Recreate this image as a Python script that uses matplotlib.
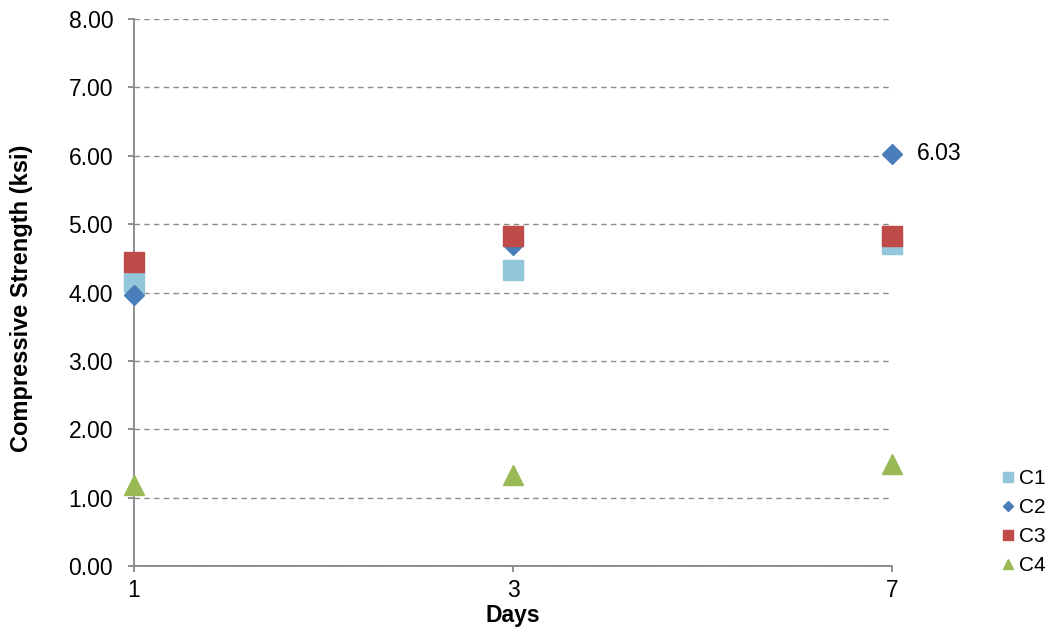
import matplotlib
matplotlib.use("Agg")
import matplotlib.pyplot as plt

plt.rcParams['font.family'] = ['Liberation Sans', 'DejaVu Sans']

days = ["1", "3", "7"]
c1 = [4.15, 4.33, 4.71]
c2 = [3.97, 4.70, 6.03]
c3 = [4.45, 4.83, 4.83]
c4 = [1.19, 1.33, 1.49]
yticks = [0, 1, 2, 3, 4, 5, 6, 7, 8]

x = list(range(len(days)))

fig = plt.figure(figsize=(10.5, 6.33), dpi=100)
ax = fig.add_axes([0.1276, 0.1058, 0.7219, 0.8642])

ax.plot(x, c1, linestyle='none', marker='s', markersize=14.4, color='#93C6D8', label='C1', clip_on=False, zorder=3)
ax.plot(x, c2, linestyle='none', marker='D', markersize=10.2, color='#4A7EBB', label='C2', clip_on=False, zorder=4)
ax.plot(x, c3, linestyle='none', marker='s', markersize=14.4, color='#BE4B48', label='C3', clip_on=False, zorder=5)
ax.plot(x, c4, linestyle='none', marker='^', markersize=14.5, color='#98B954', label='C4', clip_on=False, zorder=6)

ax.annotate(f"{c2[2]:.2f}", (x[2], c2[2]), xytext=(18, 0), textcoords='offset points',
            va='center', ha='left', fontsize=16.5)

ax.set_xlim(0, len(days) - 1)
ax.set_ylim(0, 8)
ax.set_xticks(x)
ax.set_xticklabels(days)
ax.set_yticks(yticks)
ax.set_yticklabels([f"{v:.2f}" for v in yticks])

ax.grid(axis='y', linestyle=(0, (4, 3)), color='#8C8C8C', linewidth=1.0)
ax.set_axisbelow(True)
for s in ['top', 'right']:
    ax.spines[s].set_visible(False)
for s in ['left', 'bottom']:
    ax.spines[s].set_color('#868686')
    ax.spines[s].set_linewidth(1.3)
ax.tick_params(axis='both', colors='#868686', labelcolor='black', labelsize=16.5, length=4.5, width=1.3)
ax.tick_params(axis='y', pad=10.5)
ax.tick_params(axis='x', pad=5)

ax.set_xlabel("Days", fontsize=16.5, fontweight='bold', va='center')
ax.set_ylabel("Compressive Strength (ksi)", fontsize=17, fontweight='bold', va='center')
ax.xaxis.set_label_coords(0.5, -0.09)
ax.yaxis.set_label_coords(-0.149, 0.49)

ax.legend(loc='center left', bbox_to_anchor=(0.953, 0.175), bbox_transform=fig.transFigure,
          frameon=False, fontsize=15, handlelength=0.75, handletextpad=0.15, labelspacing=0.48,
          markerscale=0.5, borderpad=0, borderaxespad=0)

fig.savefig("out.png", dpi=100)
